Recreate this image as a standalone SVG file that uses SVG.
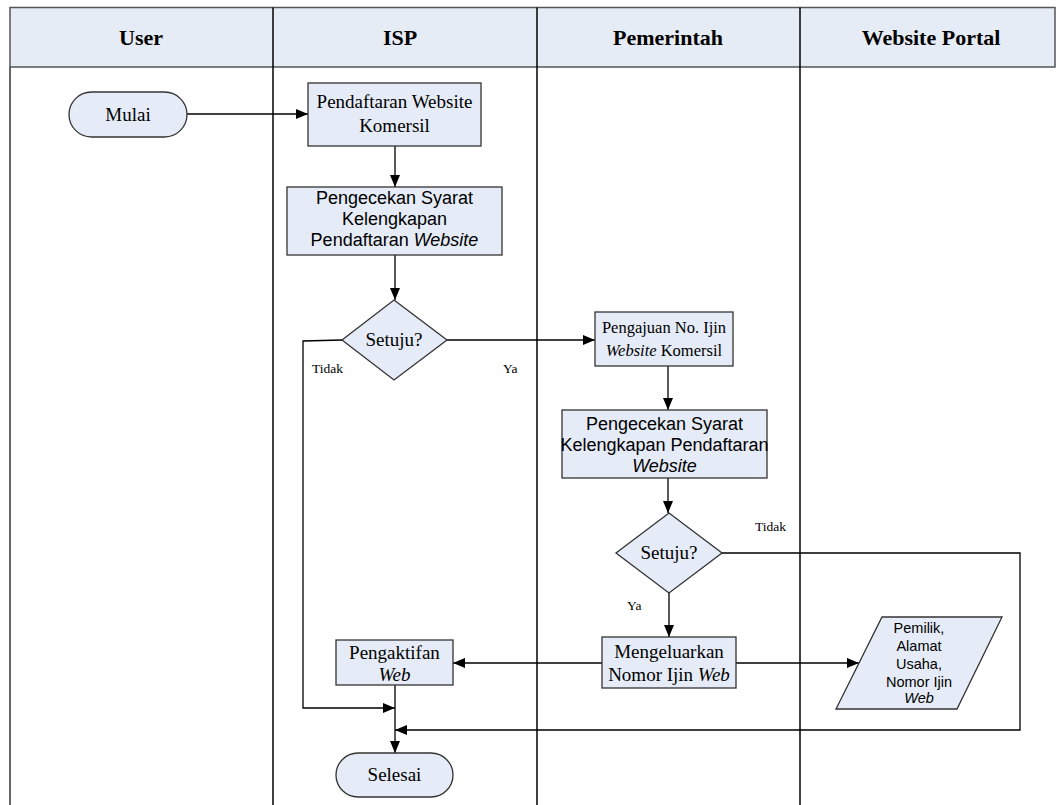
<svg xmlns="http://www.w3.org/2000/svg" width="1056" height="805" viewBox="0 0 1056 805">
<style>
.hd{font-family:"Liberation Serif","Times New Roman",serif;font-weight:bold;font-size:22px;fill:#000;text-anchor:middle}
.sf{font-family:"Liberation Serif","Times New Roman",serif;font-size:19px;fill:#000;text-anchor:middle}
.sf2{font-family:"Liberation Serif","Times New Roman",serif;font-size:16.5px;fill:#000;text-anchor:middle}
.ss{font-family:"Liberation Sans",Arial,sans-serif;font-size:18px;fill:#000;text-anchor:middle}
.sm{font-family:"Liberation Serif","Times New Roman",serif;font-size:13.5px;fill:#000}
.ps{font-family:"Liberation Sans",Arial,sans-serif;font-size:14.5px;fill:#000;text-anchor:middle}
.nd{fill:#e6ecf7;stroke:#333;stroke-width:1.3}
.ln{fill:none;stroke:#000;stroke-width:1.3}
.lane{stroke:#000;stroke-width:1.5}
</style>
<defs>
<marker id="ah" markerWidth="12" markerHeight="10" refX="12" refY="5" orient="auto" markerUnits="userSpaceOnUse">
<path d="M0,0 L12,5 L0,10 z" fill="#000"/>
</marker>
</defs>
<g id="lanes">
<rect x="10" y="7.5" width="1045" height="59.5" fill="#e6ecf6" stroke="#555" stroke-width="1.5"/>
<line x1="10" y1="67" x2="10" y2="805" stroke="#666" stroke-width="2"/>
<line class="lane" x1="273" y1="7.5" x2="273" y2="805"/>
<line class="lane" x1="537" y1="7.5" x2="537" y2="805"/>
<line class="lane" x1="800" y1="7.5" x2="800" y2="805"/>
<text class="hd" x="141" y="45">User</text>
<text class="hd" x="400" y="45">ISP</text>
<text class="hd" x="668" y="45">Pemerintah</text>
<text class="hd" x="931" y="45">Website Portal</text>
</g>
<g id="connectors">
<path class="ln" d="M187,114 L308,114" marker-end="url(#ah)"/>
<path class="ln" d="M395,146 L395,187" marker-end="url(#ah)"/>
<path class="ln" d="M395,255 L395,300" marker-end="url(#ah)"/>
<path class="ln" d="M447,340 L595,340" marker-end="url(#ah)"/>
<path class="ln" d="M342,340 L303,341 L303,708 L395,708" marker-end="url(#ah)"/>
<path class="ln" d="M668,366 L668,410" marker-end="url(#ah)"/>
<path class="ln" d="M668,478 L668,513" marker-end="url(#ah)"/>
<path class="ln" d="M669,593 L669,637" marker-end="url(#ah)"/>
<path class="ln" d="M722,553 L1020,553 L1020,730 L395,730" marker-end="url(#ah)"/>
<path class="ln" d="M602,663 L453,663" marker-end="url(#ah)"/>
<path class="ln" d="M736,663 L859,663" marker-end="url(#ah)"/>
<path class="ln" d="M395,685 L395,753" marker-end="url(#ah)"/>
<text class="sm" x="312" y="373">Tidak</text>
<text class="sm" x="503" y="373">Ya</text>
<text class="sm" x="755" y="531">Tidak</text>
<text class="sm" x="627" y="610">Ya</text>
</g>
<g id="mulai">
<rect class="nd" x="69" y="92" width="118" height="45" rx="22.5"/>
<text class="sf" x="128" y="121">Mulai</text>
</g>
<g id="pendaftaran">
<rect class="nd" x="308" y="83" width="173" height="63"/>
<text class="sf" x="394.5" y="108">Pendaftaran Website</text>
<text class="sf" x="394.5" y="132">Komersil</text>
</g>
<g id="pengecekan1">
<rect class="nd" x="287" y="187" width="215" height="68"/>
<text class="ss" x="394.5" y="204">Pengecekan Syarat</text>
<text class="ss" x="394.5" y="225">Kelengkapan</text>
<text class="ss" x="394.5" y="246">Pendaftaran <tspan font-style="italic">Website</tspan></text>
</g>
<g id="setuju1">
<polygon class="nd" points="394,300 447,340 394,380 342,340"/>
<text class="sf" x="394" y="346">Setuju?</text>
</g>
<g id="pengajuan">
<rect class="nd" x="595" y="312" width="138" height="54"/>
<text class="sf2" x="664" y="333">Pengajuan No. Ijin</text>
<text class="sf2" x="664" y="356"><tspan font-style="italic">Website</tspan> Komersil</text>
</g>
<g id="pengecekan2">
<rect class="nd" x="562" y="410" width="205" height="68"/>
<text class="ss" x="664.5" y="430">Pengecekan Syarat</text>
<text class="ss" x="664.5" y="451">Kelengkapan Pendaftaran</text>
<text class="ss" x="664.5" y="472" font-style="italic">Website</text>
</g>
<g id="setuju2">
<polygon class="nd" points="669,513 722,553 669,593 616,553"/>
<text class="sf" x="669" y="559">Setuju?</text>
</g>
<g id="mengeluarkan">
<rect class="nd" x="602" y="637" width="134" height="51"/>
<text class="sf" x="669" y="658">Mengeluarkan</text>
<text class="sf" x="669" y="681">Nomor Ijin <tspan font-style="italic">Web</tspan></text>
</g>
<g id="pengaktifan">
<rect class="nd" x="336" y="640" width="117" height="45"/>
<text class="sf" x="394.5" y="659">Pengaktifan</text>
<text class="sf" x="394.5" y="681" font-style="italic">Web</text>
</g>
<g id="data">
<polygon class="nd" points="882,617 1002,617 957,709 836,709"/>
<text class="ps" x="919" y="633">Pemilik,</text>
<text class="ps" x="919" y="651">Alamat</text>
<text class="ps" x="919" y="669">Usaha,</text>
<text class="ps" x="919" y="687">Nomor Ijin</text>
<text class="ps" x="919" y="703" font-style="italic">Web</text>
</g>
<g id="selesai">
<rect class="nd" x="336" y="753" width="117" height="44" rx="22"/>
<text class="sf" x="394.5" y="781">Selesai</text>
</g>
</svg>
